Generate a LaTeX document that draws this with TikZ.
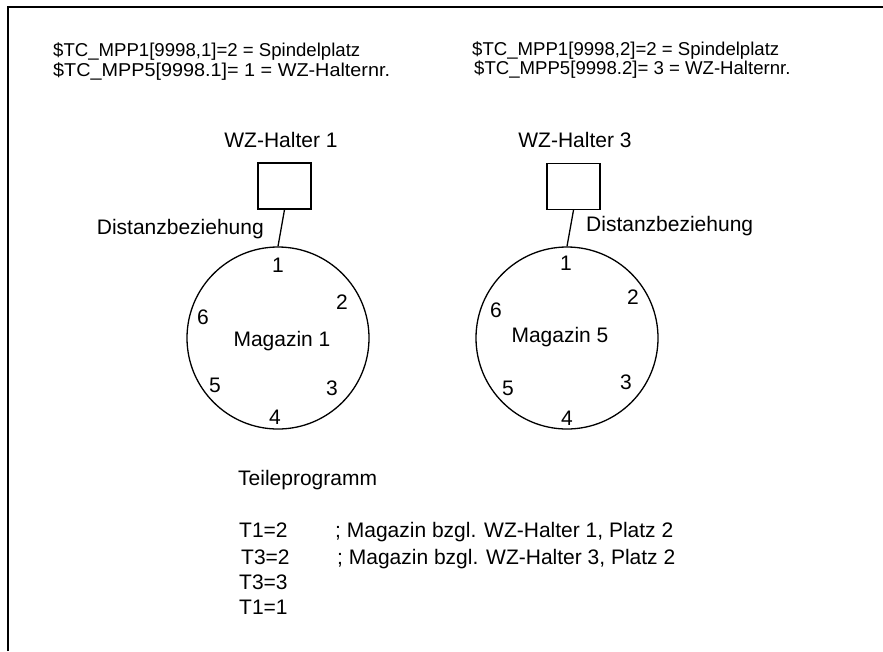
\documentclass[tikz,border=0pt]{standalone}
\usepackage{fontspec}
\setmainfont{Liberation Sans}
\begin{document}
\begin{tikzpicture}[x=1pt,y=-1pt,
  txt/.style={inner sep=0pt,font=\fontsize{21}{24}\selectfont},
  toptxt/.style={inner sep=0pt,font=\fontsize{18.6}{22}\selectfont},
  holder/.style={draw,line width=1.3pt,rectangle,minimum width=53pt,minimum height=46pt,inner sep=0pt},
  mag/.style={draw,line width=1.3pt,circle,minimum size=182pt,inner sep=0pt},
  link/.style={line width=1.3pt}]
\useasboundingbox (0,0) rectangle (883,651);
% frame
\coordinate (fbl) at (8,651);
\coordinate (ftl) at (8,7);
\coordinate (ftr) at (883,7);
\draw[line width=2pt] (fbl) -- (ftl) -- (ftr);
% top texts
\node[toptxt,anchor=base west] (t1) at (53,56) {\$TC\_MPP1[9998,1]=2 = Spindelplatz};
\node[toptxt,anchor=base west] (t2) at (53,76) {\scalebox{1.065}[1]{\$TC\_MPP5[9998.1]= 1 = WZ-Halternr.}};
\node[toptxt,anchor=base west] (t3) at (472,55) {\$TC\_MPP1[9998,2]=2 = Spindelplatz};
\node[toptxt,anchor=base west] (t4) at (474,74) {\$TC\_MPP5[9998.2]= 3 = WZ-Halternr.};
% left magazine
\node[txt,anchor=base] (h1l) at (281,147) {WZ-Halter 1};
\node[holder] (box1) at (284.5,186) {};
\node[mag] (mag1) at (278,338) {};
\draw[link] (box1.south) -- (mag1.north);
\node[txt,anchor=base east] (d1) at (264,234) {Distanzbeziehung};
\node[txt,anchor=base] (m1) at (282,346.7) {Magazin 1};
\node[txt] (a1) at (278,265) {1};
\node[txt] (a2) at (342,302) {2};
\node[txt] (a3) at (332,388) {3};
\node[txt] (a4) at (275,417) {4};
\node[txt] (a5) at (215,385) {5};
\node[txt] (a6) at (203,317) {6};
% right magazine
\node[txt,anchor=base] (h3l) at (575,147) {WZ-Halter 3};
\node[holder] (box3) at (573.5,186.5) {};
\node[mag] (mag5) at (567,338) {};
\draw[link] (box3.south) -- (mag5.north);
\node[txt,anchor=base west] (d3) at (586,231.7) {Distanzbeziehung};
\node[txt,anchor=base] (m5) at (560,342) {Magazin 5};
\node[txt] (b1) at (566,263) {1};
\node[txt] (b2) at (633,297) {2};
\node[txt] (b3) at (626,382) {3};
\node[txt] (b4) at (567,418) {4};
\node[txt] (b5) at (508,388) {5};
\node[txt] (b6) at (496,310) {6};
% part program
\node[txt,anchor=base west] (tp) at (238,485) {Teileprogramm};
\node[txt,anchor=base west] (p1) at (239,537) {T1=2};
\node[txt,anchor=base west] (c1) at (335,537) {; Magazin bzgl. WZ-Halter 1, Platz 2};
\node[txt,anchor=base west] (p2) at (241,564) {T3=2};
\node[txt,anchor=base west] (c2) at (337,564) {; Magazin bzgl. WZ-Halter 3, Platz 2};
\node[txt,anchor=base west] (p3) at (239,589) {T3=3};
\node[txt,anchor=base west] (p4) at (239,614) {T1=1};
\end{tikzpicture}
\end{document}
